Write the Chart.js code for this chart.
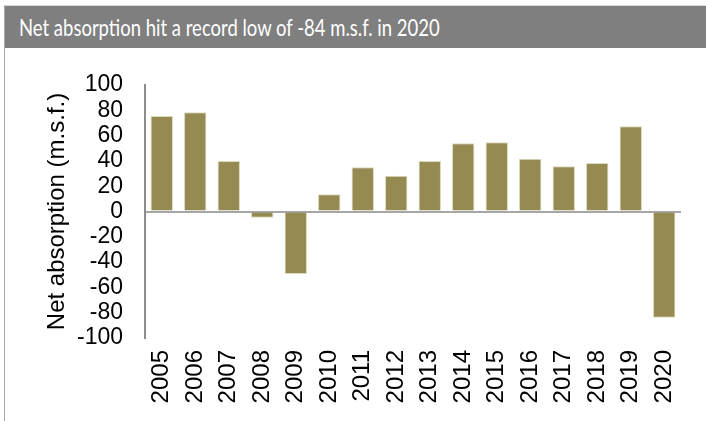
<!DOCTYPE html>
<html>
<head>
<meta charset="utf-8">
<script src="https://cdn.jsdelivr.net/npm/chart.js@4"></script>
<style>
html,body{margin:0;padding:0;background:#fff;}
#box{position:absolute;left:4px;top:5px;width:702px;height:416px;border-left:1px solid #a6a6a6;border-top:1px solid #d9d9d9;}
#head{height:42px;background:#7f7f7f;color:#fff;font-family:Lato,sans-serif;font-size:24px;line-height:42px;padding-left:14px;white-space:nowrap;overflow:hidden;}
#head span{display:inline-block;transform:scaleX(0.77);transform-origin:left center;}
#wrap{position:relative;width:701px;height:373px;}
</style>
</head>
<body>
<div id="box">
<div id="head"><span>Net absorption hit a record low of -84 m.s.f. in 2020</span></div>
<div id="wrap"><canvas id="c"></canvas></div>
</div>
<script>
const years=['2005','2006','2007','2008','2009','2010','2011','2012','2013','2014','2015','2016','2017','2018','2019','2020'];
const netAbsorption=[75.5,78.4,40,-5,-49.5,13.6,35,28.3,40,54,54.7,41.7,35.7,38.3,67.4,-84];
const yTicks=[-100,-80,-60,-40,-20,0,20,40,60,80,100];

new Chart(document.getElementById('c'),{
type:'bar',
data:{labels:years,datasets:[{data:netAbsorption,backgroundColor:'#948a52',borderColor:'#ddd9bd',borderWidth:1,barPercentage:0.67,categoryPercentage:1}]},
options:{responsive:true,maintainAspectRatio:false,animation:false,
layout:{padding:{left:0,right:25,top:37,bottom:0}},
plugins:{legend:{display:false},tooltip:{enabled:false}},
scales:{
x:{grid:{display:false,drawTicks:false},border:{display:false},
ticks:{autoSkip:false,maxRotation:90,minRotation:90,padding:12,color:'#000',font:{family:'Liberation Sans, Arial',size:24}},
afterFit:s=>{s.height=83;}},
y:{min:-100,max:100,
afterBuildTicks:s=>{s.ticks=yTicks.map(v=>({value:v}));},
grid:{drawTicks:false,color:c=>c.tick&&c.tick.value===0?'#a6a6a6':'rgba(0,0,0,0)',lineWidth:2},
border:{display:true,color:'#8c8c8c',width:2},
ticks:{autoSkip:false,padding:22,color:'#000',font:{family:'Liberation Sans, Arial',size:23}},
title:{display:true,text:'Net absorption (m.s.f.)',color:'#000',padding:{top:38,bottom:0},font:{family:'Liberation Sans, Arial',size:24}},
afterFit:s=>{s.width=140;}}
}}
});
</script>
</body>
</html>
